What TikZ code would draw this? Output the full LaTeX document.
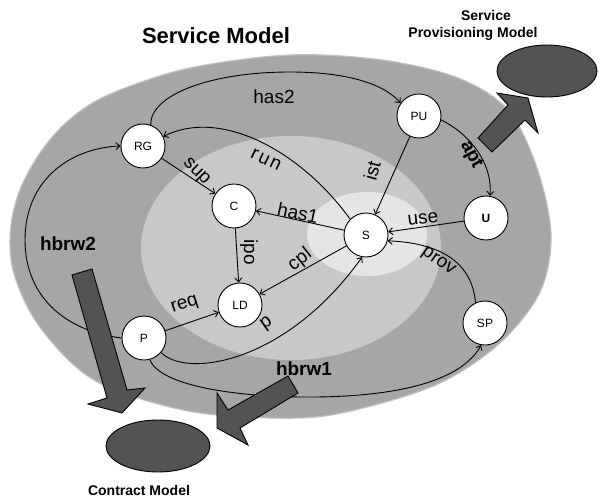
\documentclass[tikz,border=0pt]{standalone}
\usepackage{fontspec}
\setmainfont{Liberation Sans}
\usetikzlibrary{arrows.meta}
\definecolor{outerg}{RGB}{166,166,169}
\definecolor{haloG}{RGB}{192,192,194}
\definecolor{midg}{RGB}{200,200,202}
\definecolor{inng}{RGB}{229,229,231}
\definecolor{darkg}{RGB}{83,83,85}
\begin{document}
\begin{tikzpicture}[x=1pt,y=-1pt,
  state/.style={circle,draw,fill=white,line width=0.9pt,minimum size=44pt,inner sep=0pt,font=\fontsize{12}{12}\selectfont},
  edge/.style={line width=0.9pt,-{Straight Barb[length=4pt,width=7pt]}},
  elab/.style={font=\fontsize{19}{19}\selectfont,inner sep=0pt},
  belab/.style={font=\bfseries\fontsize{19}{19}\selectfont,inner sep=0pt},
  bigarrow/.style={fill=darkg,draw=black,line width=0.9pt,line join=miter},
  darkell/.style={fill=darkg,draw=black,line width=0.9pt},
  title/.style={font=\bfseries\fontsize{14}{14}\selectfont,anchor=base,inner sep=0pt}
]
\useasboundingbox (0,0) rectangle (598,498);
\fill[white] (0,0) rectangle (598,498);
% regions
\filldraw[fill=outerg,draw=haloG,line width=1.2pt] plot[smooth cycle,tension=0.55] coordinates {
 (290,55) (382,60) (458,78) (508,110) (537,168) (551,235) (540,292) (500,343)
 (440,383) (363,408) (300,418) (200,413) (120,392) (76,367) (35,320) (13,270)
 (11,225) (22,185) (45,146) (75,115) (115,92) (190,68)};
\fill[midg] (291,248) ellipse [x radius=150pt, y radius=112pt];
\fill[inng] (367,234) ellipse [x radius=60pt, y radius=42pt];

% titles
\node[font=\bfseries\fontsize{22}{22}\selectfont,anchor=base,inner sep=0pt] (tSM) at (216,43) {Service Model};
\node[title] (tSPa) at (486,20) {Service};
\node[title] (tSPb) at (473,37) {Provisioning Model};
\node[title] (tCM) at (139,495) {Contract Model};

% dark ellipses
\filldraw[darkell] (547,71) ellipse [x radius=50pt, y radius=26pt];
\filldraw[darkell] (158,446) ellipse [x radius=52pt, y radius=26pt];

% states
\node[state] (RG) at (143,146) {RG};
\node[state] (PU) at (419,116) {PU};
\node[state] (C) at (234,206) {C};
\node[state] (S) at (366,235) {S};
\node[state,font=\bfseries\fontsize{12}{12}\selectfont] (U) at (486,218) {U};
\node[state] (LD) at (240,305) {LD};
\node[state] (P) at (144,338) {P};
\node[state] (SP) at (485,323) {SP};

% edges
\draw[edge] (RG.70) .. controls (150,95) and (210,72) .. (290,72) .. controls (350,72) and (385,85) .. (PU.145);
\draw[edge] (S.135) .. controls (300,150) and (220,108) .. (RG.25);
\draw[edge] (RG) -- (C);
\draw[edge] (S) -- (C);
\draw[edge] (PU) -- (S);
\draw[edge] (U) -- (S);
\draw[edge] (PU.-10) .. controls (468,133) and (493,162) .. (U.80);
\draw[edge] (C) -- (LD);
\draw[edge] (S) -- (LD);
\draw[edge] (SP.115) .. controls (472,262) and (440,243) .. (S.-15);
\draw[edge] (P) -- (LD);
\draw[edge] (P.-40) .. controls (185,378) and (285,365) .. (S.-100);
\draw[edge] (P.180) .. controls (70,332) and (25,300) .. (25,240) .. controls (25,180) and (70,148) .. (RG.180);
\draw[edge] (P.-75) .. controls (160,385) and (230,396) .. (300,397) .. controls (400,398) and (462,380) .. (SP.-100);

% big arrows
\filldraw[bigarrow] (72,275) -- (92,269) -- (127,390) -- (145,388) -- (122,413) -- (88,404) -- (107,398) -- cycle;
\filldraw[bigarrow] (288,376) -- (298,393) -- (240,428) -- (248,445) -- (217,428) -- (217,393) -- (228,410) -- cycle;
\filldraw[bigarrow] (478,138) -- (508,105) -- (497,93) -- (528,98) -- (538,133) -- (525,120) -- (492,152) -- cycle;

% labels
\node[belab,anchor=base] (lh2) at (68,250) {hbrw2};
\node[belab,anchor=base] (lh1) at (304,375) {hbrw1};
\node[elab,anchor=base] (lhas2) at (274,103) {has2};
\node[elab,rotate=-25] (lrun) at (266,160) {r\hspace{2pt}u\hspace{2pt}n};
\node[elab,rotate=-45] (lsup) at (196,172) {sup};
\node[elab,rotate=75] (list) at (372,171) {ist};
\node[belab,rotate=-62] (lapt) at (471,155) {apt};
\node[elab,rotate=-12] (lhas1) at (298,213) {has1};
\node[elab,rotate=7] (luse) at (423,219) {use};
\node[elab,rotate=-35] (lprov) at (438,262) {prov};
\node[elab,rotate=38] (lcpl) at (300,260) {cpl};
\node[elab,rotate=-90] (lipo) at (249,252) {ipo};
\node[elab,rotate=18] (lreq) at (185,305) {req};
\node[elab,rotate=35] (lp) at (267,324) {p};
\end{tikzpicture}
\end{document}
